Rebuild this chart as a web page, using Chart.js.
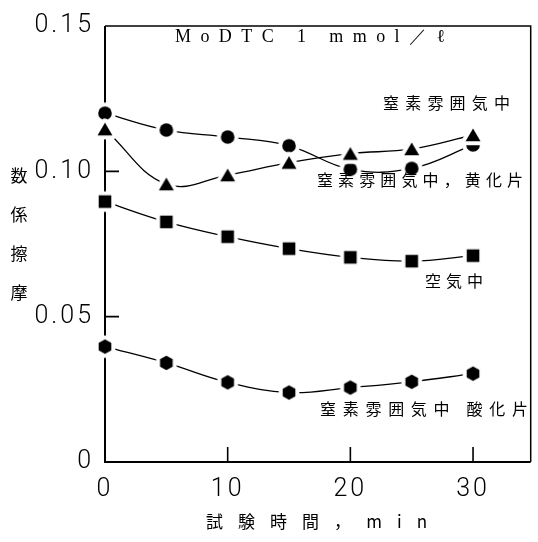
<!DOCTYPE html>
<html><head><meta charset="utf-8">
<script src="https://cdn.jsdelivr.net/npm/chart.js@4/dist/chart.umd.min.js"></script>
<style>html,body{margin:0;padding:0;background:#fff;}canvas{display:block;}</style>
</head><body>
<canvas id="c" width="538" height="542"></canvas>
<script>
// ---- data ----
const times = [0, 5, 10, 15, 20, 25, 30];
const circleSeries   = [0.1200, 0.1142, 0.1118, 0.1088, 0.1007, 0.1010, 0.1091];
const triangleSeries = [0.1145, 0.0956, 0.0987, 0.1030, 0.1061, 0.1077, 0.1125];
const squareSeries   = [0.0896, 0.0826, 0.0775, 0.0734, 0.0704, 0.0691, 0.0710];
const hexagonSeries  = [0.0397, 0.0341, 0.0274, 0.0239, 0.0256, 0.0276, 0.0304];
const xTickValues = [0, 10, 20, 30];
const xTickLabels = ['0', '10', '20', '30'];
const yTickValues = [0, 0.05, 0.10, 0.15];
const yTickLabels = ['0', '0.05', '0.10', '0.15'];
const seriesNames = ['窒素雰囲気中，黄化片', '窒素雰囲気中', '空気中', '窒素雰囲気中 酸化片'];
const xTitle = '試験時間，min';
const yTitle = '摩擦係数';
const noteText = 'MoDTC 1 mmol／ℓ';

// ---- marker images (black shape with white halo so lines stop short) ----
function makeMarker(kind) {
  const size = 40, c = document.createElement('canvas');
  c.width = size; c.height = size;
  const g = c.getContext('2d'); const cx = size / 2, cy = size / 2;
  g.beginPath();
  if (kind === 'circle') {
    g.arc(cx, cy, 6.8, 0, Math.PI * 2);
  } else if (kind === 'triangle') {
    const R = 8.6;
    for (let k = 0; k < 3; k++) { const a = -Math.PI / 2 + k * 2 * Math.PI / 3; g.lineTo(cx + R * Math.cos(a), cy + 2 + R * Math.sin(a)); }
    g.closePath();
  } else if (kind === 'square') {
    g.rect(cx - 6.3, cy - 6.3, 12.6, 12.6);
  } else {
    const R = 7.3;
    for (let k = 0; k < 6; k++) { const a = -Math.PI / 2 + k * Math.PI / 3; g.lineTo(cx + R * Math.cos(a), cy + R * Math.sin(a)); }
    g.closePath();
  }
  g.lineJoin = 'round'; g.lineWidth = 8; g.strokeStyle = '#fff'; g.stroke();
  g.fillStyle = '#000'; g.fill();
  return c;
}

function series(values, label, kind, order) {
  return {
    label: label,
    data: times.map((t, i) => ({ x: t, y: values[i] })),
    borderColor: '#000', borderWidth: 1.3, tension: 0.4,
    pointStyle: makeMarker(kind), pointRadius: 6, clip: false, fill: false,
    order: order
  };
}

const tickFont = { family: 'Roboto, "Liberation Sans", sans-serif', size: 25, weight: '300' };

const framePlugin = {
  id: 'frame',
  beforeDraw(chart) { chart.ctx.letterSpacing = '3px'; },
  beforeDatasetsDraw(chart) {
    const ctx = chart.ctx, a = chart.chartArea, xs = chart.scales.x, ys = chart.scales.y;
    ctx.save();
    ctx.letterSpacing = '0px';
    ctx.strokeStyle = '#000';
    ctx.lineWidth = 2;
    ctx.beginPath();
    ctx.moveTo(a.left, a.top); ctx.lineTo(a.left, a.bottom); ctx.lineTo(a.right, a.bottom);
    ctx.stroke();
    ctx.lineWidth = 1.5;
    ctx.beginPath();
    ctx.moveTo(a.left, a.top); ctx.lineTo(a.right, a.top); ctx.lineTo(a.right, a.bottom);
    ctx.stroke();
    ctx.lineWidth = 1.6;
    ctx.beginPath();
    yTickValues.forEach(v => { if (v > 0 && v < ys.max) { const y = ys.getPixelForValue(v); ctx.moveTo(a.left, y); ctx.lineTo(a.left + 14, y); } });
    xTickValues.forEach(v => { if (v > 0) { const x = xs.getPixelForValue(v); ctx.moveTo(x, a.bottom); ctx.lineTo(x, a.bottom - 15); } });
    ctx.stroke();
    ctx.restore();
  },
  afterDraw(chart) {
    const ctx = chart.ctx;
    function fitText(text, left, right, cy, font) {
      ctx.font = font; ctx.letterSpacing = '0px';
      const w = ctx.measureText(text).width, n = [...text].length;
      const sp = n > 1 ? (right - left - w) / (n - 1) : 0;
      ctx.letterSpacing = sp + 'px';
      ctx.textAlign = 'left'; ctx.textBaseline = 'middle'; ctx.fillStyle = '#000';
      ctx.fillText(text, left, cy);
    }
    ctx.save();
    const cjk = '"Noto Sans CJK JP", sans-serif';
    fitText(noteText, 175, 445, 37, '18px "Liberation Serif", serif');
    fitText(seriesNames[1], 383, 510, 103, '16px ' + cjk);
    fitText(seriesNames[0], 317, 523, 180, '16px ' + cjk);
    fitText(seriesNames[2], 425, 483, 281, '16px ' + cjk);
    fitText(seriesNames[3], 320, 528, 409, '16px ' + cjk);
    fitText(xTitle, 206, 427, 522, '17px ' + cjk);
    // vertical y-axis title, read bottom to top
    ctx.letterSpacing = '0px';
    ctx.font = '17px ' + cjk; ctx.textAlign = 'center'; ctx.textBaseline = 'middle';
    const chars = [...yTitle];
    chars.forEach((ch, i) => ctx.fillText(ch, 19, 293 - i * 39));
    ctx.restore();
  }
};

new Chart(document.getElementById('c'), {
  type: 'line',
  data: {
    datasets: [
      series(circleSeries, seriesNames[0], 'circle', 1),
      series(triangleSeries, seriesNames[1], 'triangle', 0),
      series(squareSeries, seriesNames[2], 'square', 2),
      series(hexagonSeries, seriesNames[3], 'hexagon', 3)
    ]
  },
  options: {
    responsive: false, animation: false, devicePixelRatio: 1,
    layout: { padding: { top: 18, right: 1, left: 0, bottom: 0 } },
    plugins: { legend: { display: false }, tooltip: { enabled: false } },
    scales: {
      x: {
        type: 'linear', min: 0, max: 34.7,
        afterBuildTicks: s => { s.ticks = xTickValues.map(v => ({ value: v })); },
        afterFit: s => { s.height = 80; },
        ticks: { font: tickFont, color: '#000', padding: 13, maxRotation: 0, callback: (v, i) => xTickLabels[i] },
        grid: { display: false, drawTicks: false }, border: { display: false }
      },
      y: {
        type: 'linear', min: 0, max: 0.15,
        afterBuildTicks: s => { s.ticks = yTickValues.map(v => ({ value: v })); },
        afterFit: s => { s.width = 105; },
        ticks: { font: tickFont, color: '#000', padding: 11, callback: (v, i) => yTickLabels[i] },
        grid: { display: false, drawTicks: false }, border: { display: false }
      }
    }
  },
  plugins: [framePlugin]
});
</script>
</body></html>
